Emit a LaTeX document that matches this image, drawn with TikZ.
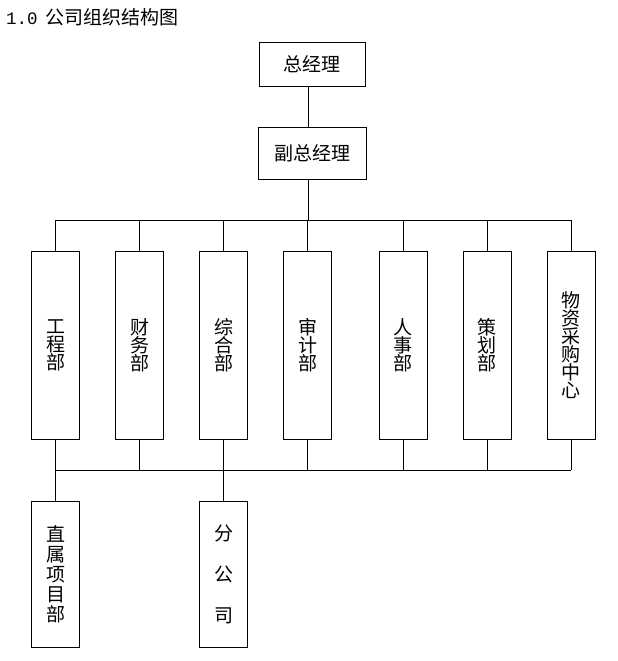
\documentclass[tikz,border=0pt]{standalone}
\usepackage{fontspec}
\newfontfamily\cjk{Noto Sans CJK SC}
\newfontfamily\titlemono{Liberation Mono}

\tikzset{
  box/.style={draw, line width=1pt, inner sep=0pt,
    font=\cjk\fontsize{19}{18}\selectfont},
  dept/.style={box, minimum width=48, minimum height=188, align=center},
  subunit/.style={box, minimum width=48, minimum height=146, align=center,
    font=\cjk\fontsize{19}{20}\selectfont},
  link/.style={line width=1pt},
}

% (name, x, text)
\newcommand{\deptbox}[3]{
    \node[dept] (#1) at (#2,345) {#3};
    \draw[link] (#1.north) -- (#1.north |- topbus);
    \draw[link] (#1.south) -- (#1.south |- lowbus);
}
\newcommand{\subbox}[3]{
    \node[subunit] (#1) at (#2,574) {#3};
    \draw[link] (#1.north) -- (#1.north |- lowbus);
}

\begin{document}
\begin{tikzpicture}[x=1pt, y=-1pt]
  \useasboundingbox (0,0) rectangle (618,661);

  \node[anchor=base west, inner sep=0pt] (title) at (6,25)
    {{\titlemono\fontsize{17.5}{17.5}\selectfont 1.0}\hspace{8pt}{\cjk\fontsize{19}{19}\selectfont 公司组织结构图}};

  \node[box, minimum width=106, minimum height=43] (gm) at (312,64.5) {总经理};
  \node[box, minimum width=108, minimum height=52] (vgm) at (312.5,153) {副总经理};

  \coordinate (topbus) at (308,220);
  \coordinate (lowbus) at (308,470);

  \draw[link] (gm.south -| topbus) -- (vgm.north -| topbus);
  \draw[link] (vgm.south -| topbus) -- (topbus);

  \deptbox{eng}{55.5}{工\\程\\部}
  \deptbox{fin}{139.5}{财\\务\\部}
  \deptbox{adm}{223.5}{综\\合\\部}
  \deptbox{aud}{307.5}{审\\计\\部}
  \deptbox{hr}{403.3}{人\\事\\部}
  \deptbox{plan}{487.3}{策\\划\\部}
  \deptbox{buy}{571.3}{物\\资\\采\\购\\中\\心}

  \draw[link] (eng.north |- topbus) -- (buy.north |- topbus);
  \draw[link] (eng.south |- lowbus) -- (buy.south |- lowbus);

  \subbox{proj}{55.5}{直\\属\\项\\目\\部}
  \subbox{branch}{223.5}{分\\[21pt]公\\[21pt]司}

\end{tikzpicture}
\end{document}
